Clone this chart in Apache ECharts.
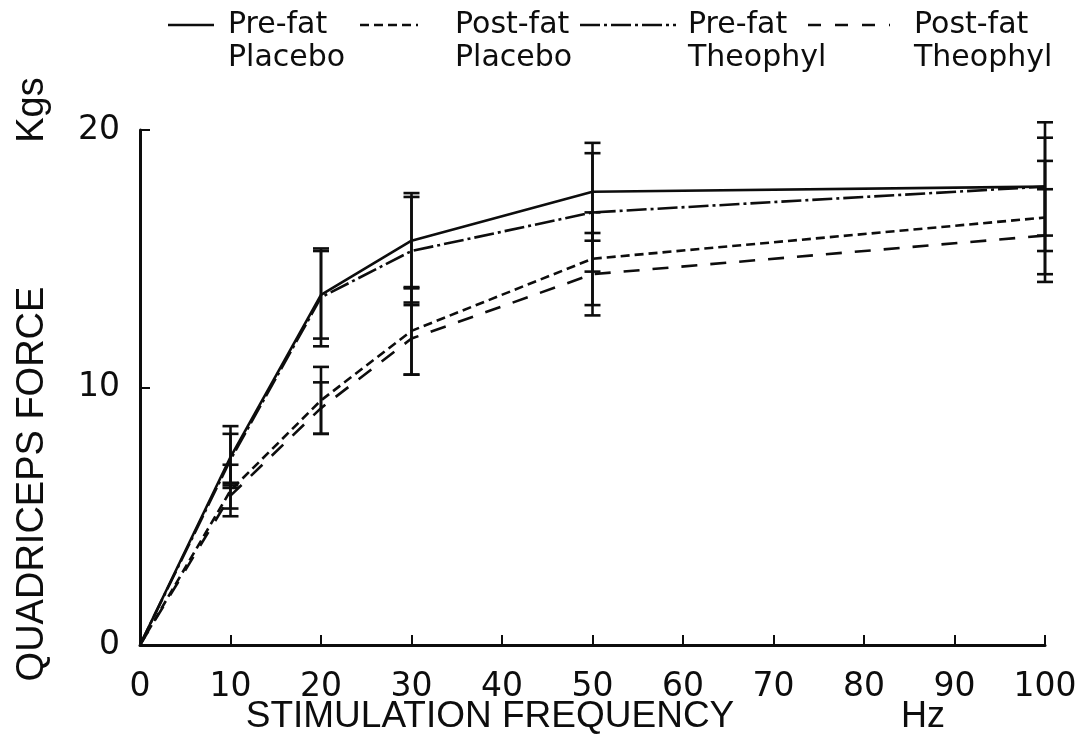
<!DOCTYPE html>
<html>
<head>
<meta charset="utf-8">
<title>Quadriceps force vs stimulation frequency</title>
<script src="https://cdn.jsdelivr.net/npm/echarts@6/dist/echarts.min.js"></script>
<style>
  html, body { margin: 0; padding: 0; background: #fff; }
  #chart { width: 1087px; height: 751px; }
</style>
</head>
<body>
<div id="chart"></div>
<script>
// Stimulation frequencies (Hz)
const freqs = [0, 10, 20, 30, 50, 100];

// Mean quadriceps force (kg) per condition
const preFatPlacebo   = [0, 7.3, 13.6, 15.7, 17.6, 17.8];
const postFatPlacebo  = [0, 6.0, 9.5, 12.2, 15.0, 16.6];
const preFatTheophyl  = [0, 7.2, 13.5, 15.3, 16.8, 17.8];
const postFatTheophyl = [0, 5.8, 9.2, 11.9, 14.4, 15.9];

// Spread (± kg) drawn as error bars; none at 0 Hz
const preFatPlaceboErr   = [null, 1.2, 1.7, 1.85, 1.9, 1.9];
const postFatPlaceboErr  = [null, 1.0, 1.3, 1.7, 1.8, 2.2];
const preFatTheophylErr  = [null, 1.0, 1.9, 2.1, 2.3, 2.5];
const postFatTheophylErr = [null, 0.5, 1.0, 1.4, 1.6, 1.8];

// Axis tick values
const xTicks = [0, 10, 20, 30, 40, 50, 60, 70, 80, 90, 100];
const yTicks = [0, 10, 20];

const seriesDefs = [
  { name: 'Pre-fat Placebo',   values: preFatPlacebo,   err: preFatPlaceboErr,   dash: 'solid' },
  { name: 'Post-fat Placebo',  values: postFatPlacebo,  err: postFatPlaceboErr,  dash: [9, 5] },
  { name: 'Pre-fat Theophyl',  values: preFatTheophyl,  err: preFatTheophylErr,  dash: [20, 4, 3, 4] },
  { name: 'Post-fat Theophyl', values: postFatTheophyl, err: postFatTheophylErr, dash: [16, 13] }
];

const INK = '#0d0d0d';
const FONT = 'Liberation Sans';
const NUMFONT = 'DejaVu Sans';

function errorBarItem(params, api) {
  const x = api.value(0), y = api.value(1), e = api.value(2);
  const top = api.coord([x, y + e]);
  const bot = api.coord([x, y - e]);
  const hw = 8;
  const style = { stroke: INK, lineWidth: 2.6 };
  return {
    type: 'group',
    children: [
      { type: 'line', shape: { x1: top[0], y1: top[1], x2: bot[0], y2: bot[1] }, style },
      { type: 'line', shape: { x1: top[0] - hw, y1: top[1], x2: top[0] + hw, y2: top[1] }, style },
      { type: 'line', shape: { x1: bot[0] - hw, y1: bot[1], x2: bot[0] + hw, y2: bot[1] }, style }
    ]
  };
}

const series = [];
seriesDefs.forEach(def => {
  series.push({
    name: def.name,
    type: 'line',
    data: freqs.map((f, i) => [f, def.values[i]]),
    showSymbol: false,
    lineStyle: { color: INK, width: 2.6, type: def.dash },
    z: 3,
    animation: false
  });
  series.push({
    name: def.name + ' error',
    type: 'custom',
    renderItem: errorBarItem,
    data: freqs.map((f, i) => [f, def.values[i], def.err[i]]).filter(d => d[2] != null),
    clip: false,
    z: 4,
    animation: false
  });
});

// Legend: line sample followed by a two-line label
const legendItems = [
  { x1: 168, x2: 214, tx: 228, l1: 'Pre-fat',  l2: 'Placebo',  dash: null },
  { x1: 360, x2: 418, tx: 455, l1: 'Post-fat', l2: 'Placebo',  dash: [9, 5] },
  { x1: 580, x2: 676, tx: 688, l1: 'Pre-fat',  l2: 'Theophyl', dash: [20, 4, 3, 4] },
  { x1: 808, x2: 890, tx: 914, l1: 'Post-fat', l2: 'Theophyl', dash: [13, 14] }
];
const graphics = [];
legendItems.forEach(it => {
  graphics.push({
    type: 'line',
    shape: { x1: it.x1, y1: 25, x2: it.x2, y2: 25 },
    style: { stroke: INK, lineWidth: 2.6, lineDash: it.dash }
  });
  graphics.push({
    type: 'text', x: it.tx, y: 25,
    style: { text: it.l1, font: '30px "' + NUMFONT + '"', fill: INK, textVerticalAlign: 'middle' }
  });
  graphics.push({
    type: 'text', x: it.tx, y: 58,
    style: { text: it.l2, font: '30px "' + NUMFONT + '"', fill: INK, textVerticalAlign: 'middle' }
  });
});
// Axis titles
graphics.push({
  type: 'text', x: 490, y: 717,
  style: { text: 'STIMULATION FREQUENCY', font: '37px "' + FONT + '"', fill: INK, textAlign: 'center', textVerticalAlign: 'middle' }
});
graphics.push({
  type: 'text', x: 923, y: 717,
  style: { text: 'Hz', font: '36px "' + FONT + '"', fill: INK, textAlign: 'center', textVerticalAlign: 'middle' }
});
graphics.push({
  type: 'text', x: 33, y: 484, rotation: Math.PI / 2,
  style: { text: 'QUADRICEPS FORCE', font: '38px "' + FONT + '"', fill: INK, textAlign: 'center', textVerticalAlign: 'middle' }
});
graphics.push({
  type: 'text', x: 33, y: 110, rotation: Math.PI / 2,
  style: { text: 'Kgs', font: '38px "' + FONT + '"', fill: INK, textAlign: 'center', textVerticalAlign: 'middle' }
});

const chart = echarts.init(document.getElementById('chart'), null, { renderer: 'canvas' });
chart.setOption({
  backgroundColor: '#fff',
  animation: false,
  grid: { left: 140, right: 42, top: 130, bottom: 106 },
  xAxis: {
    type: 'value',
    min: xTicks[0], max: xTicks[xTicks.length - 1], interval: 10,
    axisLine: { show: true, onZero: false, lineStyle: { color: INK, width: 3 } },
    axisTick: { show: true, inside: true, length: 10, lineStyle: { color: INK, width: 2 } },
    axisLabel: { color: INK, fontFamily: NUMFONT, fontSize: 33, margin: 26,
                 formatter: v => xTicks.includes(v) ? String(v) : '' },
    splitLine: { show: false }
  },
  yAxis: {
    type: 'value',
    min: yTicks[0], max: yTicks[yTicks.length - 1], interval: 10,
    axisLine: { show: true, onZero: false, lineStyle: { color: INK, width: 3 } },
    axisTick: { show: true, inside: true, length: 10, lineStyle: { color: INK, width: 2 } },
    axisLabel: { color: INK, fontFamily: NUMFONT, fontSize: 33, margin: 20,
                 formatter: v => yTicks.includes(v) ? String(v) : '' },
    splitLine: { show: false }
  },
  graphic: graphics,
  series: series
});
</script>
</body>
</html>
